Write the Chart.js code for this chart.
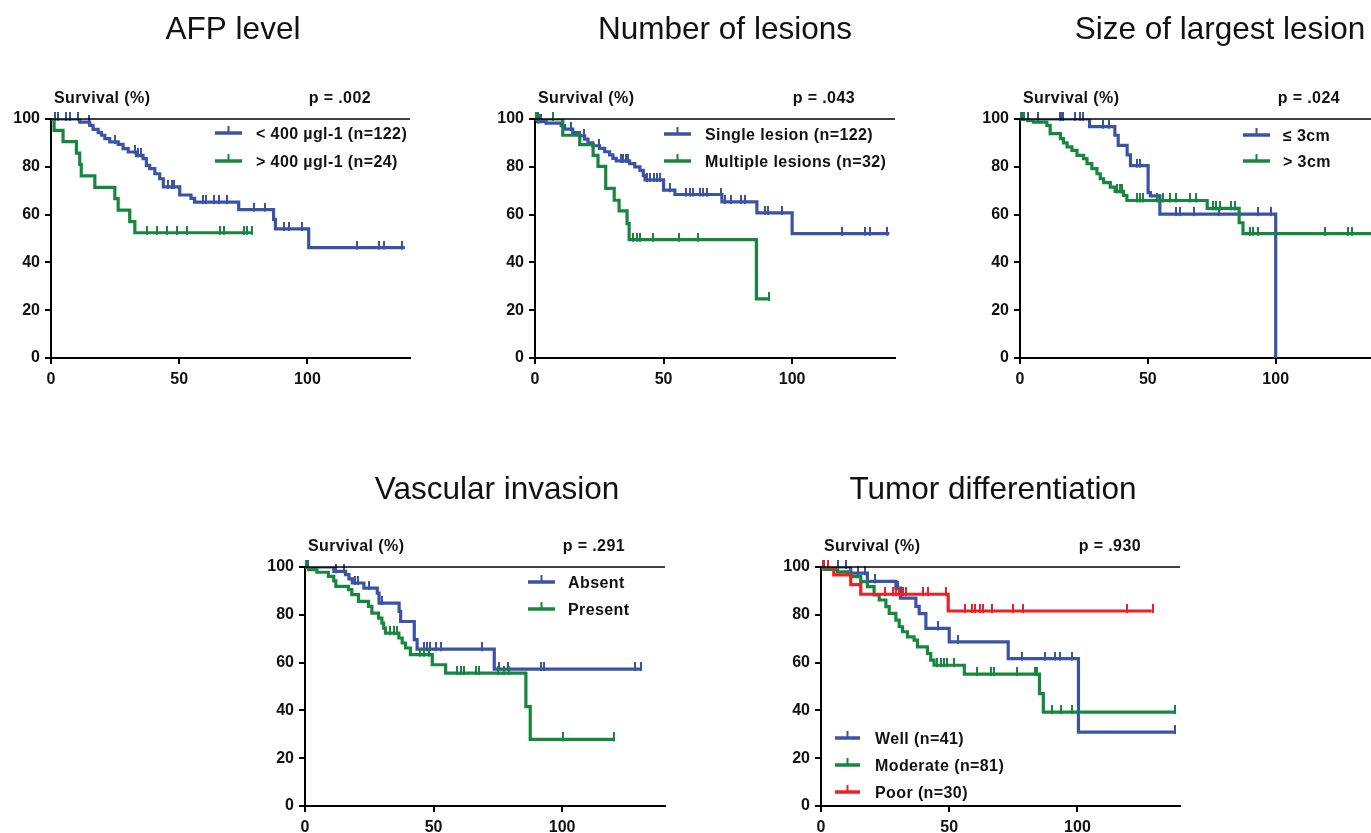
<!DOCTYPE html>
<html lang="en">
<head>
  <meta charset="UTF-8" />
  <title>Kaplan-Meier survival curves</title>
  <script src="https://cdn.jsdelivr.net/npm/chart.js"></script>
  <style>
    html, body { margin: 0; padding: 0; background: #fff; overflow: hidden; }
    body { width: 1371px; height: 833px; position: relative; }
    canvas { position: absolute; }
  </style>
</head>
<body>
<script>
  const BLUE = '#3a53a4', GREEN = '#17873f', RED = '#ec2127';
  const FONT = "'Liberation Sans', Arial, Helvetica, sans-serif";

  const xTicks = [0, 50, 100];
  const yTicks = [0, 20, 40, 60, 80, 100];

  // AFP level
  const afpLabels = ['< 400 µgl-1 (n=122)', '> 400 µgl-1 (n=24)'];
  const afpLowT = [0, 11.2, 15.1, 16.4, 18.4, 19.7, 21, 22.9, 26.2, 28.1, 30.1, 33.3, 35.9, 37.2, 38.5, 40.5, 42.4, 43.8, 50.2, 54.6, 56, 73.2, 86.8, 87.5, 100.5, 138];
  const afpLowS = [100, 98.7, 97.3, 95.7, 94.3, 93.2, 91.8, 90.4, 89.4, 87.6, 86.2, 84.8, 83.4, 80.6, 79.2, 77.1, 75, 71.6, 68.2, 66.8, 65.2, 62.1, 58, 54, 46.2, 46.2];
  const afpLowCens = [1.6, 2.9, 6, 7.4, 10.7, 15, 24.9, 32.7, 34, 35, 45.7, 47, 48, 59.2, 60.6, 63.4, 65.4, 68.6, 79, 83.6, 90.8, 92.7, 97.9, 119.4, 127.9, 129.8, 137];
  const afpHighT = [0, 1.2, 4.7, 9.9, 11.2, 11.8, 17.1, 24.9, 26.2, 30.7, 32.7, 78.3];
  const afpHighS = [100, 95.2, 90.5, 85.7, 81, 76.2, 71.4, 66.7, 61.9, 57.1, 52.4, 52.4];
  const afpHighCens = [37.4, 41.3, 45.2, 49.1, 53, 66, 67.3, 75.1, 76.4, 78.3];

  // Number of lesions
  const lesLabels = ['Single lesion (n=122)', 'Multiple lesions (n=32)'];
  const singleT = [0, 1, 4.3, 10.2, 11.5, 14.7, 17.3, 19.3, 20.6, 22.5, 25.1, 27.1, 29, 30.3, 31.6, 36.8, 38.8, 40.8, 42.1, 42.8, 50, 54.4, 72.7, 86.3, 100, 137.8];
  const singleS = [100, 99, 98.3, 97.2, 95.8, 94.3, 93, 91.6, 90, 88.8, 87.7, 86.3, 85, 83.5, 82.5, 81.3, 80, 78.5, 76.3, 74.5, 70.2, 68.4, 65.3, 60.7, 52, 52];
  const singleCens = [1, 1.5, 2.3, 14, 19, 25, 33.6, 34.3, 35.5, 36.2, 43.5, 44.8, 46.1, 47.4, 48.7, 52.5, 58.9, 60.3, 61.6, 64.1, 65.4, 66.7, 72.5, 73.8, 76.4, 80.3, 81.6, 89.5, 90.8, 96, 119.3, 128.3, 130.3, 137];
  const multiT = [0, 10.8, 17.4, 22.6, 24.5, 27.5, 30.8, 32.7, 35.8, 36.6, 86.1, 90.9];
  const multiS = [100, 93.2, 89.3, 84.8, 80.2, 71, 66, 61.6, 56.2, 49.5, 24.7, 24.7];
  const multiCens = [0.5, 1, 6.9, 38.2, 39.5, 40.8, 46, 56.1, 63.2, 90.9];

  // Size of largest lesion
  const sizeLabels = ['≤ 3cm', '> 3cm'];
  const smallT = [0, 27.2, 37.1, 38.4, 41.9, 43.2, 50.1, 51, 54.7, 100];
  const smallS = [100, 96.8, 93.2, 89, 85, 80.5, 69.2, 67.8, 60.2, 0];
  const smallCens = [1.3, 3.3, 7.2, 15.6, 16.3, 16.9, 21.5, 23.4, 24.7, 32.3, 34.9, 45.8, 47.1, 61.2, 62.5, 68, 78, 93.1, 98.3];
  const largeT = [0, 3, 5.3, 10.5, 11.8, 15.8, 17, 18.4, 20.3, 22.3, 24.9, 26.2, 28.1, 30.1, 31.4, 32.7, 35.3, 37.2, 40.5, 41.8, 73.2, 85.7, 87.2, 139];
  const largeS = [100, 99.3, 98.7, 97.3, 93.9, 91.8, 90, 88.3, 86.9, 84.8, 83.4, 81.3, 79.2, 77.1, 75, 73.4, 71.5, 69.7, 68, 65.9, 62.6, 56.6, 52, 52];
  const largeCens = [0.5, 1.5, 37.9, 39.2, 39.8, 45.6, 46.9, 48.2, 53.4, 56, 58.6, 61.2, 66.4, 69, 75.5, 76.8, 78.1, 82.7, 84, 89.8, 91.1, 93.1, 119.1, 128.2, 129.9];

  // Vascular invasion
  const vascLabels = ['Absent', 'Present'];
  const absentT = [0, 11.2, 15.8, 17.1, 18.4, 22.9, 28.1, 28.8, 36.6, 37.2, 42.5, 43.6, 73.6, 130.9];
  const absentS = [100, 98.2, 96.8, 95, 93.3, 91.2, 89.1, 84.9, 81.4, 77.2, 69.6, 65.6, 57.3, 57.3];
  const absentCens = [1, 12, 15.1, 19.5, 20.8, 24.7, 29.9, 46.2, 47.5, 48.8, 50.8, 52.7, 69, 75.5, 78.8, 91.8, 93.1, 128.3, 130.6];
  const presentT = [0, 1.4, 4.6, 9.1, 11.2, 12, 16.9, 18.2, 20.8, 24.7, 26, 28.6, 29.9, 30.6, 31.3, 36.5, 37.8, 39.1, 41, 49.5, 54.7, 85.9, 87.6, 120];
  const presentS = [100, 98.9, 97.8, 96.1, 94.2, 91.9, 90.5, 88.4, 85.6, 83.5, 80.7, 78.6, 76.5, 74.4, 72.3, 70.3, 68.2, 66.1, 63.3, 59.1, 55.6, 41.6, 27.9, 27.9];
  const presentCens = [0.5, 33.2, 34.5, 35.8, 44.9, 46.2, 48.2, 59.2, 60.5, 61.8, 66.4, 67.7, 74.9, 77.5, 79.4, 100.3, 120];

  // Tumor differentiation
  const diffLabels = ['Well (n=41)', 'Moderate (n=81)', 'Poor (n=30)'];
  const wellT = [0, 11.6, 18.1, 29.2, 31, 37, 38.3, 40.9, 50, 73, 100.4, 137.9];
  const wellS = [100, 97.4, 94, 91.2, 87, 83.5, 80.5, 74.3, 68.7, 61.7, 30.9, 30.9];
  const wellCens = [1, 6.5, 9.8, 14.3, 17, 20.9, 30, 45.6, 53.5, 78.2, 87.4, 91.3, 93.2, 97.8, 137.9];
  const modT = [0, 1.2, 6.4, 10.3, 11.6, 15.5, 18.1, 20.7, 22.7, 25.3, 26.6, 29.2, 30.5, 31.8, 33.7, 36.3, 37.6, 41.5, 42.8, 44.1, 55.9, 85.2, 86.7, 138];
  const modS = [100, 99, 98, 97.1, 96, 93.9, 91.8, 88.3, 86.2, 83.4, 80.6, 77.8, 75, 72.9, 70.8, 69.4, 66.6, 63.8, 61, 58.9, 55.2, 47, 39.3, 39.3];
  const modCens = [45.4, 46.7, 48, 49.3, 52, 61, 66.3, 67.6, 76.3, 83.4, 84.1, 90.2, 93.5, 97.8, 138];
  const poorT = [0, 5, 11.6, 15.5, 49.6, 129];
  const poorS = [100, 96.7, 92.6, 88.6, 81.6, 81.6];
  const poorCens = [0.7, 2.6, 24.8, 28, 29.3, 30.6, 31.9, 33.2, 39.8, 41.7, 48.9, 56.1, 58.7, 60, 62, 63.2, 66.5, 75, 78.9, 119.3, 129.3];

  // panel layout (pixel boxes on the page)
  const panels = [
    { title: 'AFP level', p: 'p = .002', left: 0, top: 0, width: 470, height: 400, plot: { l: 51, r: 410, t: 119, b: 358 }, titleX: 233, titleY: 28,
      series: [[afpLabels[0], BLUE, afpLowT, afpLowS, afpLowCens], [afpLabels[1], GREEN, afpHighT, afpHighS, afpHighCens]],
      legend: { x1: 164, x2: 191, tx: 205, ys: [14, 42], from: 'top' } },
    { title: 'Number of lesions', p: 'p = .043', left: 484, top: 0, width: 482, height: 400, plot: { l: 535, r: 895, t: 119, b: 358 }, titleX: 725, titleY: 28,
      series: [[lesLabels[0], BLUE, singleT, singleS, singleCens], [lesLabels[1], GREEN, multiT, multiS, multiCens]],
      legend: { x1: 129, x2: 156, tx: 170, ys: [15, 42], from: 'top' } },
    { title: 'Size of largest lesion', p: 'p = .024', left: 969, top: 0, width: 502, height: 400, plot: { l: 1020, r: 1378, t: 119, b: 358 }, titleX: 1220, titleY: 28,
      series: [[sizeLabels[0], BLUE, smallT, smallS, smallCens], [sizeLabels[1], GREEN, largeT, largeS, largeCens]],
      legend: { x1: 223, x2: 250, tx: 263, ys: [16, 42], from: 'top' } },
    { title: 'Vascular invasion', p: 'p = .291', left: 254, top: 450, width: 486, height: 398, plot: { l: 305, r: 665, t: 567, b: 806 }, titleX: 497, titleY: 488,
      series: [[vascLabels[0], BLUE, absentT, absentS, absentCens], [vascLabels[1], GREEN, presentT, presentS, presentCens]],
      legend: { x1: 223, x2: 250, tx: 263, ys: [15, 42], from: 'top' } },
    { title: 'Tumor differentiation', p: 'p = .930', left: 770, top: 450, width: 446, height: 398, plot: { l: 821, r: 1180, t: 567, b: 806 }, titleX: 993, titleY: 488,
      series: [[diffLabels[0], BLUE, wellT, wellS, wellCens], [diffLabels[1], GREEN, modT, modS, modCens], [diffLabels[2], RED, poorT, poorS, poorCens]],
      legend: { x1: 14, x2: 39, tx: 54, ys: [68, 41, 14], from: 'bottom' } }
  ];

  // survival value of a step curve at time t (puts censor ticks on the curve)
  function survivalAt(times, surv, t) {
    let s = surv[0];
    for (let i = 0; i < times.length; i++) {
      if (times[i] <= t) s = surv[i]; else break;
    }
    return s;
  }

  function tickMark(color) {
    const c = document.createElement('canvas');
    c.width = 2; c.height = 14;
    const g = c.getContext('2d');
    g.fillStyle = color;
    g.fillRect(0, 0, 2, 9);
    return c;
  }

  const kmPlugin = {
    id: 'kmText',
    afterDatasetsDraw(chart) {
      const { ctx, chartArea, scales } = chart;
      const y100 = scales.y.getPixelForValue(100);
      ctx.save();
      ctx.strokeStyle = '#000';
      ctx.lineWidth = 1.5;
      ctx.beginPath();
      ctx.moveTo(chartArea.left, y100);
      ctx.lineTo(chartArea.right, y100);
      ctx.stroke();
      ctx.restore();
    },
    afterDraw(chart, args, opts) {
      const { ctx, chartArea } = chart;
      const pn = opts.panel;
      ctx.save();
      ctx.fillStyle = '#111';
      ctx.textBaseline = 'alphabetic';

      // title: cap height centred on titleY
      ctx.font = '31.5px ' + FONT;
      ctx.textAlign = 'center';
      ctx.fillText(pn.title, pn.titleX - pn.left, pn.titleY - pn.top + 11.3);

      ctx.font = 'bold 16px ' + FONT;
      ctx.letterSpacing = '0.4px';
      ctx.textAlign = 'left';
      ctx.fillText('Survival (%)', chartArea.left + 3, chartArea.top - 16);
      ctx.textAlign = 'right';
      ctx.fillText(pn.p, chartArea.left + 320, chartArea.top - 16);

      const lg = pn.legend;
      pn.series.forEach((sr, i) => {
        const y = lg.from === 'top' ? chartArea.top + lg.ys[i] : chartArea.bottom - lg.ys[i];
        const x1 = chartArea.left + lg.x1, x2 = chartArea.left + lg.x2;
        ctx.strokeStyle = sr[1];
        ctx.lineWidth = 3.5;
        ctx.beginPath();
        ctx.moveTo(x1, y);
        ctx.lineTo(x2, y);
        ctx.stroke();
        ctx.lineWidth = 2;
        ctx.beginPath();
        ctx.moveTo((x1 + x2) / 2, y - 7);
        ctx.lineTo((x1 + x2) / 2, y);
        ctx.stroke();
        ctx.fillStyle = '#111';
        ctx.textAlign = 'left';
        ctx.fillText(sr[0], chartArea.left + lg.tx, y + 6);
      });
      ctx.restore();
    }
  };

  panels.forEach(pn => {
    const cv = document.createElement('canvas');
    cv.width = pn.width;
    cv.height = pn.height;
    cv.style.left = pn.left + 'px';
    cv.style.top = pn.top + 'px';
    cv.style.width = pn.width + 'px';
    cv.style.height = pn.height + 'px';
    document.body.appendChild(cv);

    const n = pn.series.length;
    const datasets = [];
    pn.series.forEach(([label, color, times, surv, cens], i) => {
      datasets.push({
        label,
        data: times.map((x, k) => ({ x, y: surv[k] })),
        borderColor: color,
        borderWidth: 3.2,
        stepped: true,
        pointRadius: 0,
        fill: false,
        borderCapStyle: 'butt',
        borderJoinStyle: 'miter',
        order: (n - i) * 2
      });
      datasets.push({
        label: label + ' censored',
        data: cens.map(x => ({ x, y: survivalAt(times, surv, x) })),
        showLine: false,
        pointStyle: tickMark(color),
        pointRadius: 4,
        clip: false,
        order: (n - i) * 2 - 1
      });
    });

    const axisFont = { family: FONT, size: 16, weight: 'bold' };

    new Chart(cv, {
      type: 'line',
      data: { datasets },
      options: {
        responsive: false,
        animation: false,
        events: [],
        layout: { padding: { left: 0, right: pn.left + pn.width - pn.plot.r, top: pn.plot.t - pn.top, bottom: 0 } },
        scales: {
          x: {
            type: 'linear',
            min: 0,
            max: 140,
            afterBuildTicks: s => { s.ticks = xTicks.map(v => ({ value: v })); },
            afterFit: s => { s.height = pn.top + pn.height - pn.plot.b; },
            border: { display: true, color: '#000', width: 2 },
            grid: { drawOnChartArea: false, color: '#000', lineWidth: 2, tickLength: 6 },
            ticks: { color: '#111', font: axisFont, padding: 6, maxRotation: 0 }
          },
          y: {
            min: 0,
            max: 100,
            afterBuildTicks: s => { s.ticks = yTicks.map(v => ({ value: v })); },
            afterFit: s => { s.width = pn.plot.l - pn.left; },
            border: { display: true, color: '#000', width: 2 },
            grid: { drawOnChartArea: false, color: '#000', lineWidth: 2, tickLength: 6 },
            ticks: { color: '#111', font: axisFont, padding: 5 }
          }
        },
        plugins: {
          legend: { display: false },
          tooltip: { enabled: false },
          title: { display: false },
          kmText: { panel: pn }
        }
      },
      plugins: [kmPlugin]
    });
  });
</script>
</body>
</html>
